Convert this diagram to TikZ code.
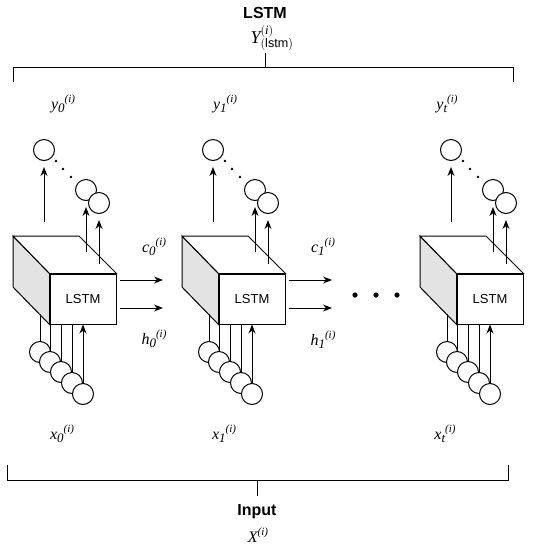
\documentclass[tikz,border=0pt]{standalone}
\usepackage{fontspec}
\setmainfont{Liberation Serif}
\setsansfont{Liberation Sans}
\usetikzlibrary{arrows.meta}
\newcommand{\seqlab}[2]{\textit{#1\raisebox{-3pt}{\fontsize{13}{14}\selectfont #2}\raisebox{7pt}{\fontsize{11}{12}\selectfont (i)}}}

\begin{document}
\begin{tikzpicture}[x=1pt, y=-1pt, line width=1pt, >={Stealth[length=9pt,width=7pt]},
    every node/.style={inner sep=0pt},
    unit/.style={circle,draw,fill=white,minimum size=21pt},
    face/.style={draw,fill=white,minimum width=66pt,minimum height=50pt,font=\sffamily\fontsize{13}{15}\selectfont},
    lab/.style={font=\fontsize{16}{18}\selectfont},
    head/.style={font=\sffamily\bfseries\fontsize{16}{18}\selectfont}]
    \useasboundingbox (0,0) rectangle (538,550);

    % Output bracket
    \node[head] (top) at (265,13) {LSTM};
    \node[lab, font=\fontsize{18}{20}\selectfont] (yl) at (272,38) {$\mathit{Y}^{\mathit{(i)}}_{\mathsf{(lstm)}}$};
    \coordinate (ya) at (265,53); \coordinate (yb) at (265,67);
    \coordinate (tl) at (13,67); \coordinate (tr) at (513,67);
    \draw (ya) -- (yb);
    \draw (13,82) -- (tl) -- (tr) -- (513,82);

    % Blocks
    \foreach \n/\dx in {0/0,1/169,t/407}{
        \begin{scope}[xshift=\dx pt]
            \node[face] (f\n) at (83,299) {LSTM};
            \coordinate (bt\n) at (13,236); \coordinate (br\n) at (79,236); \coordinate (bb\n) at (13,287);
            \filldraw[fill=gray!22] (bt\n) -- (f\n.north west) -- (f\n.south west) -- (bb\n) -- cycle;
            \filldraw[fill=white] (bt\n) -- (br\n) -- (f\n.north east) -- (f\n.north west) -- cycle;

            % outputs
            \node[unit] (o1\n) at (44,150) {};
            \node[unit] (o2\n) at (86,190) {};
            \node[unit] (o3\n) at (99,203) {};
            \coordinate (s1\n) at (44,222); \coordinate (s2\n) at (86,252); \coordinate (s3\n) at (99,264);
            \foreach \k in {1,2,3} \draw[->, shorten >=6pt] (s\k\n) -- (o\k\n);
            \foreach \x/\y in {56/161,63/169,71/177} \fill (\x,\y) circle (1.3);

            % inputs
            \foreach \k/\x/\y in {1/40/352,2/50/362,3/61/372,4/72/383,5/83/394} \node[unit] (i\k\n) at (\x,\y) {};
            \coordinate (e1\n) at (40,314);
            \draw (i1\n.north) -- (e1\n);
            \foreach \k in {2,3,4} \draw (i\k\n.north) -- (i\k\n.north |- f\n.south);
            \draw[->] (i5\n) -- (i5\n |- f\n.south);
        \end{scope}
    }

    % States
    \foreach \n/\dx in {0/0,1/169}{
        \begin{scope}[xshift=\dx pt]
            \coordinate (ca\n) at (120,280); \coordinate (cb\n) at (163,280);
            \coordinate (ha\n) at (120,308); \coordinate (hb\n) at (163,308);
            \draw[->] (ca\n) -- (cb\n);
            \draw[->] (ha\n) -- (hb\n);
        \end{scope}
    }
    \node[lab] (c0) at (154,247) {\seqlab{c}{0}};
    \node[lab] (h0) at (154,339) {\seqlab{h}{0}};
    \node[lab] (c1) at (323,247) {\seqlab{c}{1}};
    \node[lab] (h1) at (323,340) {\seqlab{h}{1}};
    \foreach \x in {355,376,397} \fill (\x,295) circle (2.6);

    % Labels
    \node[lab] (y0) at (63,104) {\seqlab{y}{0}};
    \node[lab] (y1) at (225,104) {\seqlab{y}{1}};
    \node[lab] (yt) at (447,104) {\seqlab{y}{t}};
    \node[lab] (x0) at (62,434) {\seqlab{x}{0}};
    \node[lab] (x1) at (224,434) {\seqlab{x}{1}};
    \node[lab] (xt) at (445,434) {\seqlab{x}{t}};

    % Input bracket
    \coordinate (bl) at (7,480); \coordinate (br) at (508,480);
    \coordinate (xa) at (257,480); \coordinate (xb) at (257,496);
    \draw (7,465) -- (bl) -- (br) -- (508,465);
    \draw (xa) -- (xb);
    \node[head] (inp) at (257,512) {Input};
    \node[lab] (xl) at (258,535) {\textit{X\raisebox{7pt}{\fontsize{11}{12}\selectfont (i)}}};
\end{tikzpicture}
\end{document}
